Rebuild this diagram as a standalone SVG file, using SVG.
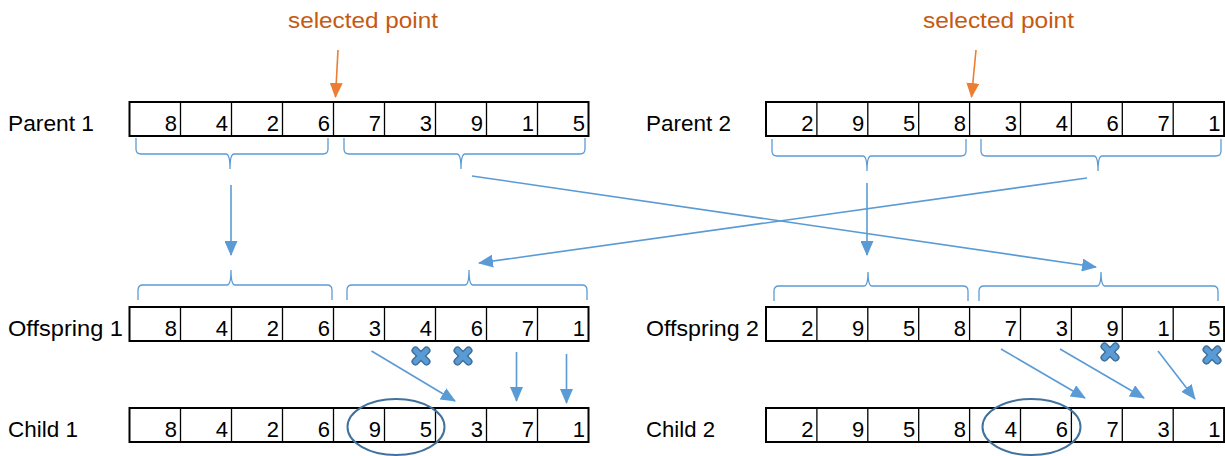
<svg xmlns="http://www.w3.org/2000/svg" width="1225" height="456" viewBox="0 0 1225 456">
  <style>
    .lbl { font-family: "Liberation Sans", Arial, sans-serif; font-size: 22px; fill: #000; }
    .num { font-family: "Liberation Sans", Arial, sans-serif; font-size: 22px; fill: #000; text-anchor: end; }
    .sel { font-family: "Liberation Sans", Arial, sans-serif; font-size: 22px; fill: #C55A11; }
    .box { fill: #fff; stroke: #000; stroke-width: 2; }
    .div { stroke: #000; stroke-width: 1.3; }
    .brace { fill: none; stroke: #5B9BD5; stroke-width: 1.3; }
    .conn { fill: none; stroke: #5B9BD5; stroke-width: 1.6; marker-end: url(#blueHead); }
    .pick { fill: none; stroke: #ED7D31; stroke-width: 1.6; marker-end: url(#orangeHead); }
    .ring { fill: none; stroke: #41719C; stroke-width: 2; }
    .xo { stroke: #41719C; stroke-width: 8; stroke-linecap: round; }
    .xi { stroke: #5B9BD5; stroke-width: 5; stroke-linecap: round; }
  </style>
  <defs>
    <marker id="blueHead" markerUnits="userSpaceOnUse" viewBox="0 0 15 13" markerWidth="15" markerHeight="13" refX="14" refY="6.5" orient="auto">
      <path d="M0,0 L15,6.5 L0,13 Z" fill="#5B9BD5"/>
    </marker>
    <marker id="orangeHead" markerUnits="userSpaceOnUse" viewBox="0 0 15 13" markerWidth="15" markerHeight="13" refX="14" refY="6.5" orient="auto">
      <path d="M0,0 L15,6.5 L0,13 Z" fill="#ED7D31"/>
    </marker>
    <!-- nine-cell divider lines, cell width 51 -->
    <g id="dividersL">
      <line class="div" x1="51" y1="0" x2="51" y2="34"/>
      <line class="div" x1="102" y1="0" x2="102" y2="34"/>
      <line class="div" x1="153" y1="0" x2="153" y2="34"/>
      <line class="div" x1="204" y1="0" x2="204" y2="34"/>
      <line class="div" x1="255" y1="0" x2="255" y2="34"/>
      <line class="div" x1="306" y1="0" x2="306" y2="34"/>
      <line class="div" x1="357" y1="0" x2="357" y2="34"/>
      <line class="div" x1="408" y1="0" x2="408" y2="34"/>
    </g>
    <g id="dividersR">
      <line class="div" x1="50.9" y1="0" x2="50.9" y2="34"/>
      <line class="div" x1="101.8" y1="0" x2="101.8" y2="34"/>
      <line class="div" x1="152.7" y1="0" x2="152.7" y2="34"/>
      <line class="div" x1="203.6" y1="0" x2="203.6" y2="34"/>
      <line class="div" x1="254.5" y1="0" x2="254.5" y2="34"/>
      <line class="div" x1="305.4" y1="0" x2="305.4" y2="34"/>
      <line class="div" x1="356.3" y1="0" x2="356.3" y2="34"/>
      <line class="div" x1="407.2" y1="0" x2="407.2" y2="34"/>
    </g>
    <!-- cross mark for a discarded duplicate gene -->
    <g id="cross">
      <line class="xo" x1="-5.5" y1="-5.5" x2="5.5" y2="5.5"/><line class="xo" x1="5.5" y1="-5.5" x2="-5.5" y2="5.5"/>
      <line class="xi" x1="-5.5" y1="-5.5" x2="5.5" y2="5.5"/><line class="xi" x1="5.5" y1="-5.5" x2="-5.5" y2="5.5"/>
    </g>
  </defs>

  <rect width="1225" height="456" fill="#fff"/>

  <!-- selected point markers -->
  <g id="selected-point-1">
    <text class="sel" x="288" y="28" textLength="150" lengthAdjust="spacingAndGlyphs">selected point</text>
  </g>
  <g id="selected-point-2">
    <text class="sel" x="923" y="28" textLength="151" lengthAdjust="spacingAndGlyphs">selected point</text>
  </g>

  <!-- Parent 1 -->
  <g id="parent1">
    <text class="lbl" x="8" y="131" textLength="86" lengthAdjust="spacingAndGlyphs">Parent 1</text>
    <rect class="box" x="129.5" y="102" width="459" height="34"/>
    <use href="#dividersL" x="129.5" y="102"/>
    <g class="num">
      <text x="177" y="131">8</text><text x="228" y="131">4</text><text x="279" y="131">2</text>
      <text x="330" y="131">6</text><text x="381" y="131">7</text><text x="432" y="131">3</text>
      <text x="483" y="131">9</text><text x="534" y="131">1</text><text x="585" y="131">5</text>
    </g>
  </g>

  <!-- Parent 2 -->
  <g id="parent2">
    <text class="lbl" x="646" y="131" textLength="85" lengthAdjust="spacingAndGlyphs">Parent 2</text>
    <rect class="box" x="766" y="102" width="458.1" height="34"/>
    <use href="#dividersR" x="766" y="102"/>
    <g class="num">
      <text x="813.4" y="131">2</text><text x="864.3" y="131">9</text><text x="915.2" y="131">5</text>
      <text x="966.1" y="131">8</text><text x="1017" y="131">3</text><text x="1067.9" y="131">4</text>
      <text x="1118.8" y="131">6</text><text x="1169.7" y="131">7</text><text x="1220.6" y="131">1</text>
    </g>
  </g>

  <!-- Offspring 1 -->
  <g id="offspring1">
    <text class="lbl" x="8" y="336" textLength="115" lengthAdjust="spacingAndGlyphs">Offspring 1</text>
    <rect class="box" x="129.5" y="307" width="459" height="34"/>
    <use href="#dividersL" x="129.5" y="307"/>
    <g class="num">
      <text x="177" y="336">8</text><text x="228" y="336">4</text><text x="279" y="336">2</text>
      <text x="330" y="336">6</text><text x="381" y="336">3</text><text x="432" y="336">4</text>
      <text x="483" y="336">6</text><text x="534" y="336">7</text><text x="585" y="336">1</text>
    </g>
  </g>

  <!-- Offspring 2 -->
  <g id="offspring2">
    <text class="lbl" x="646" y="336" textLength="113" lengthAdjust="spacingAndGlyphs">Offspring 2</text>
    <rect class="box" x="766" y="307" width="458.1" height="34"/>
    <use href="#dividersR" x="766" y="307"/>
    <g class="num">
      <text x="813.4" y="336">2</text><text x="864.3" y="336">9</text><text x="915.2" y="336">5</text>
      <text x="966.1" y="336">8</text><text x="1017" y="336">7</text><text x="1067.9" y="336">3</text>
      <text x="1118.8" y="336">9</text><text x="1169.7" y="336">1</text><text x="1220.6" y="336">5</text>
    </g>
  </g>

  <!-- Child 1 -->
  <g id="child1">
    <text class="lbl" x="8" y="437" textLength="70" lengthAdjust="spacingAndGlyphs">Child 1</text>
    <rect class="box" x="129.5" y="408" width="459" height="34"/>
    <use href="#dividersL" x="129.5" y="408"/>
    <g class="num">
      <text x="177" y="437">8</text><text x="228" y="437">4</text><text x="279" y="437">2</text>
      <text x="330" y="437">6</text><text x="381" y="437">9</text><text x="432" y="437">5</text>
      <text x="483" y="437">3</text><text x="534" y="437">7</text><text x="585" y="437">1</text>
    </g>
    <ellipse class="ring" cx="396" cy="427" rx="48.5" ry="28"/>
  </g>

  <!-- Child 2 -->
  <g id="child2">
    <text class="lbl" x="646" y="437" textLength="69" lengthAdjust="spacingAndGlyphs">Child 2</text>
    <rect class="box" x="766" y="408" width="458.1" height="34"/>
    <use href="#dividersR" x="766" y="408"/>
    <g class="num">
      <text x="813.4" y="437">2</text><text x="864.3" y="437">9</text><text x="915.2" y="437">5</text>
      <text x="966.1" y="437">8</text><text x="1017" y="437">4</text><text x="1067.9" y="437">6</text>
      <text x="1118.8" y="437">7</text><text x="1169.7" y="437">3</text><text x="1220.6" y="437">1</text>
    </g>
    <ellipse class="ring" cx="1031.5" cy="427" rx="49" ry="28"/>
  </g>

  <!-- braces grouping the two segments of each chromosome -->
  <g id="braces">
    <path class="brace" d="M136,138 V149 Q136,154 141,154 H226 Q230,154 230,169 Q230,154 234,154 H323 Q328,154 328,149 V138"/>
    <path class="brace" d="M344,138 V149 Q344,154 349,154 H457 Q461,154 461,169 Q461,154 465,154 H580 Q585,154 585,149 V138"/>
    <path class="brace" d="M772,139 V151 Q772,156 777,156 H863 Q867,156 867,171 Q867,156 871,156 H961 Q966,156 966,151 V139"/>
    <path class="brace" d="M981,139 V151 Q981,156 986,156 H1094 Q1098,156 1098,171 Q1098,156 1102,156 H1216 Q1221,156 1221,151 V139"/>
    <path class="brace" d="M138,300 V290 Q138,285 143,285 H227 Q231,285 231,270 Q231,285 235,285 H327 Q332,285 332,290 V300"/>
    <path class="brace" d="M347,300 V290 Q347,285 352,285 H465 Q469,285 469,270 Q469,285 473,285 H582 Q587,285 587,290 V300"/>
    <path class="brace" d="M774,301 V291 Q774,286 779,286 H864 Q868,286 868,272 Q868,286 872,286 H963 Q968,286 968,291 V301"/>
    <path class="brace" d="M979,301 V291 Q979,286 984,286 H1097 Q1101,286 1101,272 Q1101,286 1105,286 H1213 Q1218,286 1218,291 V301"/>
  </g>

  <!-- discarded duplicate genes -->
  <g id="discards">
    <use href="#cross" x="421" y="356"/>
    <use href="#cross" x="463" y="356"/>
    <use href="#cross" x="1110" y="352"/>
    <use href="#cross" x="1212" y="355"/>
  </g>

  <!-- connectors -->
  <g id="connectors">
    <line class="pick" x1="338" y1="50" x2="335.5" y2="97"/>
    <line class="pick" x1="976" y1="50" x2="971.5" y2="97"/>
    <line class="conn" x1="231" y1="185" x2="231" y2="255"/>
    <line class="conn" x1="867" y1="183" x2="867" y2="255"/>
    <line class="conn" x1="472" y1="176" x2="1096" y2="267"/>
    <line class="conn" x1="1087" y1="178" x2="479" y2="263"/>
    <line class="conn" x1="371.5" y1="351" x2="455" y2="401"/>
    <line class="conn" x1="516.5" y1="352" x2="516.5" y2="401"/>
    <line class="conn" x1="566.5" y1="354" x2="566.5" y2="403"/>
    <line class="conn" x1="1001" y1="349" x2="1085" y2="398"/>
    <line class="conn" x1="1060" y1="349" x2="1144" y2="398"/>
    <line class="conn" x1="1158" y1="351" x2="1195" y2="399"/>
  </g>
</svg>
